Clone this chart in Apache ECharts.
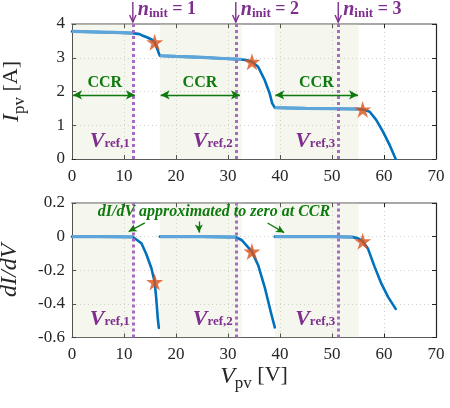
<!DOCTYPE html>
<html>
<head>
<meta charset="utf-8">
<script src="https://cdn.jsdelivr.net/npm/echarts@6/dist/echarts.min.js"></script>
<style>
html, body { margin: 0; padding: 0; background: #fff; }
#chart { width: 450px; height: 408px; }
</style>
</head>
<body>
<div id="chart"></div>
<script>
// I-V curve of the partially shaded PV string
const ivVoltage = [0, 4, 8, 11.7, 13, 13.65, 14.5, 15.3, 15.9, 16.2, 16.5, 16.7, 16.9, 20, 25, 30, 31.5, 32.6, 33.5, 34.6, 35.8, 37.05, 38, 38.5, 39, 45, 50, 55, 55.9, 57.25, 58.5, 59.8, 61.1, 62.25];
const ivCurrent = [3.78, 3.765, 3.75, 3.73, 3.70, 3.65, 3.60, 3.54, 3.46, 3.34, 3.22, 3.13, 3.06, 3.04, 3.01, 2.97, 2.96, 2.95, 2.93, 2.88, 2.73, 2.34, 1.95, 1.65, 1.52, 1.50, 1.49, 1.48, 1.47, 1.40, 1.16, 0.81, 0.41, 0];

// dI/dV, one segment per sub-string
const slopeVoltage1 = [0, 5, 11.7, 12.07, 13.35, 14.3, 15.27, 15.9, 16.2, 16.5, 16.7];
const slopeValue1 = [0, 0, -0.002, -0.009, -0.039, -0.105, -0.188, -0.27, -0.367, -0.487, -0.543];
const slopeVoltage2 = [16.9, 25, 31.5, 32.6, 33.5, 34.6, 35.8, 37.05, 38.3, 39];
const slopeValue2 = [0, 0, -0.003, -0.02, -0.05, -0.089, -0.17, -0.30, -0.457, -0.54];
const slopeVoltage3 = [39, 50, 54, 55, 55.9, 56.9, 58.2, 59.5, 60.8, 62.25];
const slopeValue3 = [0, 0, -0.003, -0.01, -0.027, -0.07, -0.18, -0.28, -0.36, -0.43];

// Local maximum power points
const mppVoltage = [15.9, 34.6, 55.9];
const mppCurrent = [3.46, 2.88, 1.47];
const mppSlope = [-0.27, -0.089, -0.027];

// Reference voltages and constant-current regions
const vrefValues = [11.7, 31.5, 51.2];
const vrefLabels = ['ref,1', 'ref,2', 'ref,3'];
const ninitLabels = ['1', '2', '3'];
const ccrShadeFrom = [0, 16.9, 39.0];
const ccrShadeTo = [11.9, 32.6, 55.1];
const ccrArrowFrom = [0.2, 17.05, 39.1];
const ccrArrowTo = [12.1, 32.3, 55.0];
const ccrArrowCurrent = 1.9;
const ccrLabelVoltage = [6.3, 24.6, 47.0];
const ccrLabelCurrent = 2.25;

// Pointers from the dI/dV note to the flat parts
const noteText = 'dI/dV approximated to zero at CCR';
const noteVoltage = 27.3, noteSlope = 0.147;
const notePointerFrom = [[14.0, 0.082], [24.4, 0.09], [37.6, 0.081]];
const notePointerTo = [[10.9, 0.03], [24.4, 0.024], [40.8, 0.024]];

const xTicks = { min: 0, max: 70, interval: 10 };
const iTicks = { min: 0, max: 4, interval: 1 };
const sTicks = { min: -0.6, max: 0.2, interval: 0.2 };

const FONT = 'Liberation Serif';
const BLUE = '#0072BD';
const BLUE_LIGHT = '#5ea6d9';
const ORANGE = '#D95319';
const PURPLE = '#7E2F8E';
const PURPLE_LINE = '#a56cc1';
const GREEN = '#0e7a0e';
const STAR = 'path://M50,2 L61.2,36.2 L97.6,36.2 L68.2,57.4 L79.4,91.6 L50,70.4 L20.6,91.6 L31.8,57.4 L2.4,36.2 L38.8,36.2 Z';

const zip = (a, b) => a.map((v, i) => [v, b[i]]);
const shadeGroups = (pts) => ccrShadeFrom.map((f, i) => pts.filter(p => p[0] >= f && p[0] <= ccrShadeTo[i]));

const ivData = zip(ivVoltage, ivCurrent);
const slopeSegs = [zip(slopeVoltage1, slopeValue1), zip(slopeVoltage2, slopeValue2), zip(slopeVoltage3, slopeValue3)];

// flat (CCR) parts, highlighted in a lighter blue, with breaks between regions
function joinWithBreaks(groups) {
  const out = [];
  groups.forEach((g, i) => { if (i) out.push([null, null]); g.forEach(p => out.push(p)); });
  return out;
}
const ivFlat = joinWithBreaks(shadeGroups(ivData));
const slopeFlat = joinWithBreaks(shadeGroups([].concat(...slopeSegs)).map(g => g.filter(p => p[1] > -0.004)));

const grids = [
  { left: 72, right: 14, top: 24, height: 135, outerBoundsMode: 'none', containLabel: false },
  { left: 72, right: 14, top: 203, height: 134.5, outerBoundsMode: 'none', containLabel: false }
];

function xAxisPair(gridIndex, withLabels) {
  const common = { type: 'value', gridIndex, min: xTicks.min, max: xTicks.max, interval: xTicks.interval };
  return [
    Object.assign({}, common, {
      position: 'bottom',
      axisLine: { show: true, onZero: false, lineStyle: { color: '#5a5a5a', width: 1.2 } },
      axisTick: { show: true, inside: true, length: 4, lineStyle: { color: '#262626' } },
      axisLabel: { show: true, fontFamily: FONT, fontSize: 17, color: '#262626', margin: 9 },
      splitLine: { show: true, lineStyle: { color: '#cfcfcf', type: [1, 3], width: 1 } },
      name: withLabels ? '{v|V}{s|pv}{b| [V]}' : '',
      nameLocation: 'middle',
      nameGap: 22,
      nameTextStyle: {
        fontFamily: FONT, color: '#262626',
        rich: {
          v: { fontFamily: FONT, fontSize: 24, fontStyle: 'italic', color: '#262626', lineHeight: 28, verticalAlign: 'top' },
          s: { fontFamily: FONT, fontSize: 17, color: '#262626', lineHeight: 20, verticalAlign: 'bottom' },
          b: { fontFamily: FONT, fontSize: 22, color: '#262626', lineHeight: 28, verticalAlign: 'top' }
        }
      }
    }),
    Object.assign({}, common, {
      position: 'top',
      axisLine: { show: true, onZero: false, lineStyle: { color: '#a8a8a8', width: 2 } },
      axisTick: { show: true, inside: true, length: 4, lineStyle: { color: '#262626' } },
      axisLabel: { show: false },
      splitLine: { show: false }
    })
  ];
}

function yAxisPair(gridIndex, ticks, name, gap, fmt) {
  const common = { type: 'value', gridIndex, min: ticks.min, max: ticks.max, interval: ticks.interval };
  return [
    Object.assign({}, common, {
      position: 'left',
      axisLine: { show: true, onZero: false, lineStyle: { color: '#262626', width: 1 } },
      axisTick: { show: true, inside: true, length: 4, lineStyle: { color: '#262626' } },
      axisLabel: { show: true, fontFamily: FONT, fontSize: 17, color: '#262626', margin: 7, formatter: fmt },
      splitLine: { show: true, lineStyle: { color: '#cfcfcf', type: [1, 3], width: 1 } },
      name, nameLocation: 'middle', nameGap: gap, nameRotate: 90,
      nameTextStyle: {
        fontFamily: FONT, color: '#262626',
        rich: {
          i: { fontFamily: FONT, fontSize: 24, fontStyle: 'italic', color: '#262626', lineHeight: 28, verticalAlign: 'top' },
          s: { fontFamily: FONT, fontSize: 17, color: '#262626', lineHeight: 20, verticalAlign: 'bottom' },
          b: { fontFamily: FONT, fontSize: 22, color: '#262626', lineHeight: 28, verticalAlign: 'top' }
        }
      }
    }),
    Object.assign({}, common, {
      position: 'right',
      axisLine: { show: true, onZero: false, lineStyle: { color: '#262626', width: 1.2 } },
      axisTick: { show: true, inside: true, length: 4, lineStyle: { color: '#262626' } },
      axisLabel: { show: false },
      splitLine: { show: false }
    })
  ];
}

const shadeArea = {
  silent: true,
  itemStyle: { color: 'rgba(215,220,185,0.25)' },
  data: ccrShadeFrom.map((f, i) => [{ xAxis: f }, { xAxis: ccrShadeTo[i] }])
};
const vrefLines = {
  silent: true, symbol: 'none', label: { show: false },
  lineStyle: { color: PURPLE_LINE, type: [3, 3], width: 3 },
  data: vrefValues.map(v => ({ xAxis: v }))
};

const lineBase = { type: 'line', showSymbol: false, smooth: false, silent: true, animation: false };

const series = [
  // upper panel
  Object.assign({}, lineBase, {
    name: 'I-V', xAxisIndex: 0, yAxisIndex: 0, data: ivData, z: 3,
    lineStyle: { color: BLUE, width: 2.6, join: 'round', cap: 'round' },
    markArea: shadeArea
  }),
  Object.assign({}, lineBase, {
    name: 'I-V CCR', xAxisIndex: 0, yAxisIndex: 0, data: ivFlat, z: 4, connectNulls: false,
    lineStyle: { color: BLUE_LIGHT, width: 3.2 }
  }),
  Object.assign({}, lineBase, {
    name: 'Vref I-V', xAxisIndex: 0, yAxisIndex: 0, data: [], z: 5,
    markLine: vrefLines
  }),
  Object.assign({}, lineBase, {
    name: 'CCR arrows', xAxisIndex: 0, yAxisIndex: 0, data: [], z: 6,
    markLine: {
      silent: true, symbol: ['arrow', 'arrow'], symbolSize: [7, 9], label: { show: false },
      lineStyle: { color: GREEN, type: 'solid', width: 1.3 },
      data: ccrArrowFrom.map((f, i) => [{ coord: [f, ccrArrowCurrent] }, { coord: [ccrArrowTo[i], ccrArrowCurrent] }])
    }
  }),
  {
    type: 'scatter', name: 'MPP I-V', xAxisIndex: 0, yAxisIndex: 0, z: 7, silent: true, animation: false,
    symbol: STAR, symbolSize: 17, itemStyle: { color: ORANGE },
    data: zip(mppVoltage, mppCurrent)
  },
  // lower panel
  ...slopeSegs.map((seg, k) => Object.assign({}, lineBase, {
    name: 'dI/dV ' + (k + 1), xAxisIndex: 2, yAxisIndex: 2, data: seg, z: 3,
    lineStyle: { color: BLUE, width: 2.6, join: 'round', cap: 'round' },
    markArea: k === 0 ? shadeArea : undefined
  })),
  Object.assign({}, lineBase, {
    name: 'dI/dV CCR', xAxisIndex: 2, yAxisIndex: 2, data: slopeFlat, z: 4, connectNulls: false,
    lineStyle: { color: BLUE_LIGHT, width: 3.2 }
  }),
  Object.assign({}, lineBase, {
    name: 'Vref dI/dV', xAxisIndex: 2, yAxisIndex: 2, data: [], z: 5,
    markLine: vrefLines
  }),
  Object.assign({}, lineBase, {
    name: 'note pointers', xAxisIndex: 2, yAxisIndex: 2, data: [], z: 6,
    markLine: {
      silent: true, symbol: ['none', 'arrow'], symbolSize: [6, 8], label: { show: false },
      lineStyle: { color: GREEN, type: 'solid', width: 1.3 },
      data: notePointerFrom.map((p, i) => [{ coord: p }, { coord: notePointerTo[i] }])
    }
  }),
  {
    type: 'scatter', name: 'MPP dI/dV', xAxisIndex: 2, yAxisIndex: 2, z: 7, silent: true, animation: false,
    symbol: STAR, symbolSize: 17, itemStyle: { color: ORANGE },
    data: zip(mppVoltage, mppSlope)
  }
];

const chart = echarts.init(document.getElementById('chart'), null, { renderer: 'canvas' });
chart.setOption({
  animation: false,
  backgroundColor: '#ffffff',
  grid: grids,
  xAxis: [...xAxisPair(0, false), ...xAxisPair(1, true)],
  yAxis: [
    ...yAxisPair(0, iTicks, '{i|I}{s|pv}{b| [A]}', 44, v => String(v)),
    ...yAxisPair(1, sTicks, '{i|dI/dV}', 46, v => (Math.abs(v) < 1e-9 ? '0' : v.toFixed(1)))
  ],
  series
});

// Text annotations placed through the axes' own scales
function px(xAxisIndex, v) { return chart.convertToPixel({ xAxisIndex }, v); }
function py(yAxisIndex, v) { return chart.convertToPixel({ yAxisIndex }, v); }

const graphics = [];
const topEdge = py(0, iTicks.max);

vrefValues.forEach((v, i) => {
  const x = px(0, v);
  // n_init pointer
  graphics.push({
    type: 'polyline', silent: true, z: 50,
    shape: { points: [[x, topEdge - 22], [x, topEdge - 2]] },
    style: { stroke: PURPLE, lineWidth: 1.4, fill: null }
  });
  graphics.push({
    type: 'polyline', silent: true, z: 50,
    shape: { points: [[x - 3.2, topEdge - 9], [x, topEdge - 2], [x + 3.2, topEdge - 9]] },
    style: { stroke: PURPLE, lineWidth: 1.4, fill: null }
  });
  graphics.push({
    type: 'text', silent: true, z: 50, x: x + 5, y: topEdge - 14,
    style: {
      text: '{n|n}{s|init}{e| = ' + ninitLabels[i] + '}',
      align: 'left', verticalAlign: 'middle',
      rich: {
        n: { fontFamily: FONT, fontSize: 20, fontWeight: 'bold', fontStyle: 'italic', fill: PURPLE, lineHeight: 20, verticalAlign: 'top' },
        s: { fontFamily: FONT, fontSize: 13, fontWeight: 'bold', fill: PURPLE, lineHeight: 16, verticalAlign: 'bottom' },
        e: { fontFamily: FONT, fontSize: 18, fontWeight: 'bold', fill: PURPLE, lineHeight: 20, verticalAlign: 'top' }
      }
    }
  });
  // V_ref labels in both panels
  [[0, 0.25], [2, -0.545]].forEach(([ax, val]) => {
    graphics.push({
      type: 'text', silent: true, z: 50, x: px(ax, v) - 3, y: py(ax, val),
      style: {
        text: '{v|V}{s|' + vrefLabels[i] + '}',
        align: 'right', verticalAlign: 'bottom',
        rich: {
          v: { fontFamily: FONT, fontSize: 22, fontWeight: 'bold', fontStyle: 'italic', fill: PURPLE, lineHeight: 20, verticalAlign: 'top' },
          s: { fontFamily: FONT, fontSize: 13, fontWeight: 'bold', fill: PURPLE, lineHeight: 14, verticalAlign: 'bottom' }
        }
      }
    });
  });
});

ccrLabelVoltage.forEach(v => {
  graphics.push({
    type: 'text', silent: true, z: 50, x: px(0, v), y: py(0, ccrLabelCurrent),
    style: { text: 'CCR', align: 'center', verticalAlign: 'middle', fontFamily: FONT, fontSize: 16, fontWeight: 'bold', fill: GREEN }
  });
});

graphics.push({
  type: 'text', silent: true, z: 50, x: px(2, noteVoltage), y: py(2, noteSlope),
  style: { text: noteText, align: 'center', verticalAlign: 'middle', fontFamily: FONT, fontSize: 16, fontWeight: 'bold', fontStyle: 'italic', fill: GREEN }
});

chart.setOption({ graphic: graphics });
</script>
</body>
</html>
